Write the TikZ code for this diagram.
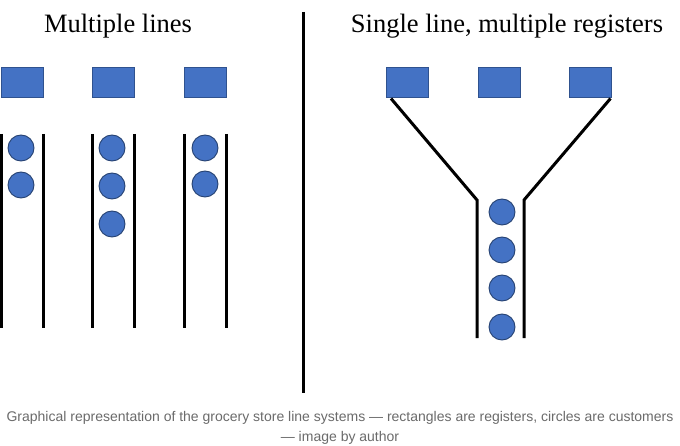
\documentclass[tikz,border=0pt]{standalone}
\usepackage{fontspec}
\setmainfont{Liberation Serif}
\newfontfamily\capfont{Liberation Sans}
\definecolor{regblue}{HTML}{4472C4}
\definecolor{regedge}{HTML}{2F528F}
\definecolor{capgray}{HTML}{6B6B6B}
\begin{document}
\begin{tikzpicture}[x=1pt,y=-1pt,
  reg/.style={draw=regedge,fill=regblue,line width=1pt,minimum width=42pt,minimum height=30pt,inner sep=0pt},
  cust/.style={circle,draw=regedge!80!black,fill=regblue,line width=0.9pt,minimum size=26pt,inner sep=0pt},
  wall/.style={line width=3pt,black},
  ttl/.style={font=\fontsize{26.5}{30}\selectfont,anchor=base},
  captext/.style={font=\capfont\fontsize{14}{20}\selectfont,text=capgray,anchor=base}]
\useasboundingbox (0,0) rectangle (680,446);
\fill[white] (0,0) rectangle (680,446);
% titles
\node[ttl] (t1) at (118,33) {Multiple lines};
\node[ttl] (t2) at (507,33) {Single line, multiple registers};
% divider
\draw[wall] (303,12) -- (303,393);
% left registers
\node[reg] (r1) at (22,83) {};
\node[reg] (r2) at (113.5,83) {};
\node[reg] (r3) at (205,83) {};
% left lanes
\foreach \x in {1,43,92,134,184,226}{
  \draw[wall] (\x,134) -- (\x,328);
}
% customers left
\node[cust] (c11) at (21,148) {};
\node[cust] (c12) at (21,185) {};
\node[cust] (c21) at (112,148) {};
\node[cust] (c22) at (112,186) {};
\node[cust] (c23) at (112,224) {};
\node[cust] (c31) at (205,148) {};
\node[cust] (c32) at (205,184) {};
% right registers
\node[reg] (s1) at (407.5,83) {};
\node[reg] (s2) at (499.5,83) {};
\node[reg] (s3) at (590,83) {};
% funnel
\coordinate (fl) at (477,200);
\coordinate (fr) at (524,200);
\draw[wall,line join=miter] ([xshift=5pt]s1.south west) -- (fl) -- (477,338);
\draw[wall,line join=miter] ([xshift=-1pt]s3.south east) -- (fr) -- (524,338);
% customers right
\node[cust] (d1) at (502,212) {};
\node[cust] (d2) at (502,250) {};
\node[cust] (d3) at (502,288) {};
\node[cust] (d4) at (502,327) {};
% caption
\node[captext] (cap1) at (340,421) {Graphical representation of the grocery store line systems — rectangles are registers, circles are customers};
\node[captext] (cap2) at (340,441) {— image by author};
\end{tikzpicture}
\end{document}
